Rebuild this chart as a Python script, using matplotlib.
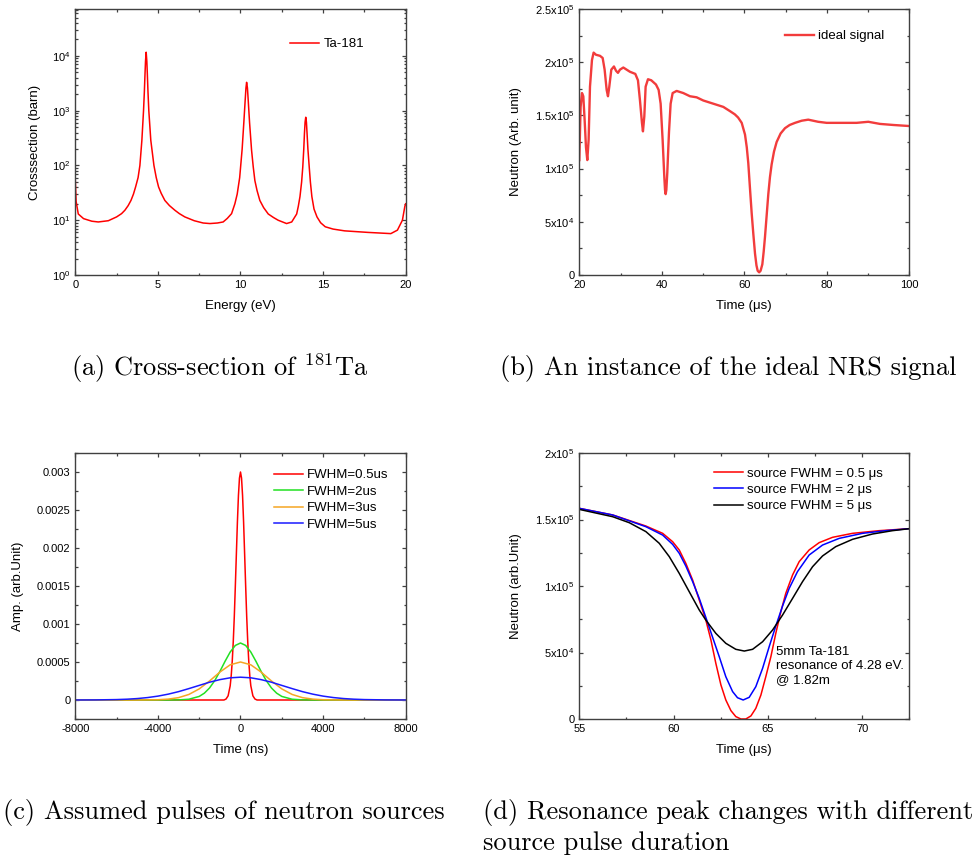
import numpy as np
import matplotlib
matplotlib.use('Agg')
import matplotlib.pyplot as plt
from matplotlib.ticker import MultipleLocator, FuncFormatter, LogLocator, NullFormatter

plt.rcParams.update({
    'font.family': 'Liberation Sans',
    'mathtext.fontset': 'custom',
    'mathtext.rm': 'Liberation Sans',
    'mathtext.it': 'Liberation Sans:italic',
    'mathtext.bf': 'Liberation Sans:bold',
    'axes.unicode_minus': False,
    'xtick.direction': 'in',
    'ytick.direction': 'in',
    'xtick.top': True,
    'ytick.right': True,
    'xtick.major.size': 3.2,
    'ytick.major.size': 3.2,
    'xtick.minor.size': 1.8,
    'ytick.minor.size': 1.8,
    'xtick.labelsize': 8,
    'ytick.labelsize': 8,
    'axes.labelsize': 9.5,
    'axes.linewidth': 1.0,
    'axes.edgecolor': '#404040',
    'lines.solid_joinstyle': 'round',
})

# (a) Ta-181 cross-section
energy = [0.0, 0.05, 0.18, 0.5, 1.0, 1.39, 2.0, 2.5, 2.8, 3.0, 3.2, 3.37, 3.52,
          3.65, 3.8, 3.91, 4.03, 4.13, 4.18, 4.22, 4.25, 4.29, 4.33, 4.36, 4.40,
          4.45, 4.57, 4.76, 4.9, 5.04, 5.2, 5.42, 5.7, 6.03, 6.3, 6.63, 7.2,
          7.74, 8.15, 8.6, 8.95, 9.2, 9.46, 9.66, 9.8, 9.95, 10.1, 10.2, 10.28,
          10.33, 10.37, 10.42, 10.47, 10.55, 10.67, 10.77, 10.87, 11.0, 11.17,
          11.4, 11.68, 12.0, 12.28, 12.79, 13.1, 13.4, 13.5, 13.6, 13.7, 13.77,
          13.83, 13.87, 13.91, 13.95, 13.99, 14.03, 14.08, 14.16, 14.23, 14.32,
          14.45, 14.63, 14.85, 15.13, 15.6, 16.3, 17.7, 19.1, 19.5, 19.8,
          19.95, 20.0]
sigma = [53, 22, 13, 10.7, 9.6, 9.3, 9.8, 11.5, 13.2, 15.2, 18.5, 23, 30,
         40.6, 60, 100, 288, 1000, 2200, 4730, 8000, 11700, 8000, 4730, 2200,
         1000, 288, 100, 60, 40.6, 31, 23, 18.5, 15.2, 13.2, 11.5, 9.8,
         8.9, 8.7, 8.9, 9.3, 10.8, 13.2, 20, 30, 60, 200, 600, 1500,
         2600, 3300, 2600, 1500, 600, 190, 95, 53, 35, 23,
         17, 13, 11.2, 10, 8.7, 9.3, 13, 18, 27, 50, 94,
         200, 380, 620, 760, 620, 380, 200, 94, 50, 27,
         16, 11.5, 9.0, 7.6, 6.9, 6.4, 6.0, 5.7, 6.6, 10,
         18, 20]

# (b) ideal NRS signal (units of 1e5)
t_sig = [20.0, 20.32, 20.65, 20.97, 21.29, 21.62, 21.94, 22.26, 22.59, 23.07,
         23.47, 24.04, 25.01, 25.66, 26.14, 26.63, 26.95, 27.27, 27.76, 28.40,
         28.89, 29.37, 29.86, 30.67, 31.47, 32.28, 33.58, 34.22, 34.71, 35.19,
         35.43, 35.76, 36.08, 36.65, 37.45, 38.59, 39.23, 39.72, 40.20, 40.40,
         40.61, 40.78, 40.93, 41.10, 41.33, 41.53, 41.74, 42.14, 42.63, 43.60,
         45.21, 46.83, 48.44, 50.06, 51.68, 53.29, 54.91, 56.53, 57.70, 58.50,
         59.37, 60.17, 60.60, 60.97, 61.40, 61.79, 62.20, 62.60, 62.95, 63.24,
         63.60, 63.95, 64.37, 64.70, 65.02, 65.40, 65.82, 66.22, 66.63, 67.20,
         67.84, 68.80, 69.87, 71.00, 72.30, 73.90, 75.50, 76.70, 77.90, 79.96,
         83.19, 87.23, 90.06, 92.89, 96.12, 100.0]
n_sig = [1.08, 1.58, 1.71, 1.68, 1.46, 1.20, 1.08, 1.27, 1.77, 2.02,
         2.09, 2.07, 2.06, 2.04, 1.93, 1.74, 1.68, 1.77, 1.93, 1.96,
         1.92, 1.90, 1.93, 1.95, 1.93, 1.91, 1.89, 1.83, 1.64, 1.43,
         1.35, 1.49, 1.77, 1.84, 1.83, 1.79, 1.74, 1.61, 1.27, 1.10,
         0.92, 0.80, 0.76, 0.80, 0.96, 1.15, 1.34, 1.61, 1.71, 1.73,
         1.71, 1.68, 1.67, 1.64, 1.62, 1.60, 1.58, 1.54, 1.51, 1.48,
         1.43, 1.32, 1.20, 1.05, 0.80, 0.58, 0.38, 0.20, 0.09, 0.04,
         0.025, 0.04, 0.10, 0.22, 0.36, 0.55, 0.76, 0.92, 1.04, 1.16,
         1.25, 1.33, 1.38, 1.41, 1.43, 1.45, 1.46, 1.45, 1.44, 1.43,
         1.43, 1.43, 1.44, 1.42, 1.41, 1.40]

# (c) source pulses, right half (pulses are symmetric around 0)
pulse_labels = ['FWHM=0.5us', 'FWHM=2us', 'FWHM=3us', 'FWHM=5us']
pulse_colors = ['#ff0000', '#22e022', '#f5a623', '#1a1aff']
t_p05 = [0, 50, 100, 150, 200, 250, 300, 350, 400, 450, 500, 600, 700, 800, 8000]
a_p05 = [0.003, 0.00292, 0.00269, 0.00234, 0.00192, 0.0015, 0.0011, 0.00077,
         0.00051, 0.00032, 0.000186, 0.000055, 0.000013, 0.0, 0.0]
t_p2 = [0, 250, 500, 750, 1000, 1250, 1500, 1750, 2000, 2500, 3000, 3500, 8000]
a_p2 = [0.00075, 0.000718, 0.000631, 0.000508, 0.000375, 0.000254, 0.000158,
        0.00009, 0.000047, 0.00001, 0.0000015, 0.0, 0.0]
t_p3 = [0, 500, 1000, 1500, 2000, 2500, 3000, 3500, 4000, 5000, 6000, 8000]
a_p3 = [0.0005, 0.000463, 0.000367, 0.00025, 0.000146, 0.000073, 0.000031,
        0.0000115, 0.0000036, 0.0000002, 0.0, 0.0]
t_p5 = [0, 500, 1000, 1500, 2000, 2500, 3000, 3500, 4000, 4500, 5000, 5500,
        6000, 7000, 8000]
a_p5 = [0.0003, 0.000292, 0.000268, 0.000234, 0.000192, 0.00015, 0.00011,
        0.000077, 0.000051, 0.000032, 0.0000188, 0.0000105, 0.0000055,
        0.0000013, 0.00000025]

# (d) resonance dip for different source widths (units of 1e5)
t_red = [55.00, 56.77, 58.53, 59.42, 59.95, 60.30, 60.65, 61.01, 61.36, 61.71,
         61.98, 62.24, 62.51, 62.77, 63.04, 63.30, 63.57, 63.83, 64.10, 64.36,
         64.63, 64.89, 65.16, 65.42, 65.69, 65.95, 66.31, 66.66, 67.19, 67.72,
         68.43, 69.49, 70.90, 72.50]
n_red = [1.584, 1.534, 1.451, 1.396, 1.333, 1.271, 1.170, 1.045, 0.895, 0.744,
         0.594, 0.419, 0.256, 0.143, 0.063, 0.018, 0.0, 0.0, 0.023, 0.080,
         0.180, 0.318, 0.469, 0.644, 0.807, 0.945, 1.083, 1.183, 1.271, 1.326,
         1.366, 1.396, 1.416, 1.431]
t_blue = [55.00, 56.77, 58.53, 59.42, 59.95, 60.30, 60.65, 61.01, 61.36, 61.71,
          62.07, 62.42, 62.77, 63.13, 63.39, 63.69, 64.01, 64.36, 64.72, 65.07,
          65.42, 65.78, 66.13, 66.57, 67.19, 67.90, 68.78, 70.02, 71.25, 72.50]
n_blue = [1.584, 1.534, 1.446, 1.383, 1.313, 1.246, 1.150, 1.033, 0.907, 0.764,
          0.614, 0.469, 0.318, 0.206, 0.160, 0.143, 0.163, 0.243, 0.381, 0.544,
          0.699, 0.850, 0.982, 1.108, 1.233, 1.308, 1.358, 1.396, 1.416, 1.431]
t_black = [55.00, 56.77, 57.65, 58.53, 59.24, 59.77, 60.30, 60.83, 61.36, 61.71,
           62.24, 62.77, 63.30, 63.75, 64.19, 64.72, 65.25, 65.78, 66.31, 66.84,
           67.37, 67.90, 68.60, 69.49, 70.55, 71.61, 72.50]
n_black = [1.576, 1.521, 1.476, 1.409, 1.321, 1.221, 1.095, 0.957, 0.820, 0.744,
           0.644, 0.569, 0.524, 0.511, 0.524, 0.581, 0.669, 0.782, 0.907, 1.033,
           1.145, 1.226, 1.296, 1.351, 1.391, 1.416, 1.431]


def mirror(t, a):
    t = np.asarray(t, dtype=float)
    a = np.asarray(a, dtype=float)
    return np.concatenate([-t[:0:-1], t]), np.concatenate([a[:0:-1], a])


def sci_label(v, pos):
    if v < 0:
        return ''
    if v < 1e-9:
        return '0'
    exp = int(np.floor(np.log10(v) + 1e-9))
    mant = v / 10 ** exp
    return r'%gx10$^{%d}$' % (round(mant, 2), exp)


def plain_label(v, pos):
    if abs(v) < 1e-12:
        return '0'
    return '%g' % v


fig = plt.figure(figsize=(9.78, 8.6), dpi=100)
W, H = 978.0, 860.0


def add_axes(left, top, right, bottom):
    return fig.add_axes([left / W, 1 - bottom / H, (right - left) / W,
                         (bottom - top) / H])


ax_a = add_axes(75.3, 9, 405.7, 275)
ax_b = add_axes(579.3, 9, 909.3, 275)
ax_c = add_axes(75.3, 453, 405.7, 719)
ax_d = add_axes(579.3, 453, 909.3, 719)

for ax in (ax_a, ax_b, ax_c, ax_d):
    ax.tick_params(which='both', top=True, right=True, width=0.9,
                   color='#404040')

leg_kw = dict(frameon=False, fontsize=9.5, handlelength=2.2, handletextpad=0.3,
              borderaxespad=0.0)

# (a)
ax_a.plot(energy, sigma, color='#ff0000', lw=1.1, label='Ta-181')
ax_a.set_yscale('log')
ax_a.set_xlim(0, 20)
ax_a.set_ylim(1, 7.2e4)
ax_a.xaxis.set_major_locator(MultipleLocator(5))
ax_a.xaxis.set_minor_locator(MultipleLocator(2.5))
ax_a.yaxis.set_major_locator(LogLocator(base=10, numticks=10))
ax_a.yaxis.set_minor_locator(LogLocator(base=10, subs=np.arange(2, 10), numticks=20))
ax_a.yaxis.set_minor_formatter(NullFormatter())
ax_a.set_xlabel('Energy (eV)', labelpad=7)
ax_a.set_ylabel('Crosssection (barn)', labelpad=8)
ax_a.legend(loc='upper right', bbox_to_anchor=(0.89, 0.91), **leg_kw)

# (b)
ax_b.plot(t_sig, np.asarray(n_sig) * 1e5, color='#f23c3c', lw=1.7,
          label='ideal signal')
ax_b.set_xlim(20, 100)
ax_b.set_ylim(0, 2.5e5)
ax_b.xaxis.set_major_locator(MultipleLocator(20))
ax_b.xaxis.set_minor_locator(MultipleLocator(10))
ax_b.yaxis.set_major_locator(MultipleLocator(0.5e5))
ax_b.yaxis.set_minor_locator(MultipleLocator(0.25e5))
ax_b.yaxis.set_major_formatter(FuncFormatter(sci_label))
ax_b.set_xlabel('Time (μs)', labelpad=7)
ax_b.set_ylabel('Neutron (Arb. unit)', labelpad=9)
ax_b.legend(loc='upper right', bbox_to_anchor=(0.94, 0.94), **leg_kw)

# (c)
for (t, a), lab, col in zip([(t_p05, a_p05), (t_p2, a_p2), (t_p3, a_p3), (t_p5, a_p5)],
                            pulse_labels, pulse_colors):
    tt, aa = mirror(t, a)
    ax_c.plot(tt, aa, color=col, lw=1.1, label=lab)
ax_c.set_xlim(-8000, 8000)
ax_c.set_ylim(-0.00025, 0.00325)
ax_c.xaxis.set_major_locator(MultipleLocator(4000))
ax_c.xaxis.set_minor_locator(MultipleLocator(2000))
ax_c.yaxis.set_major_locator(MultipleLocator(0.0005))
ax_c.yaxis.set_minor_locator(MultipleLocator(0.00025))
ax_c.yaxis.set_major_formatter(FuncFormatter(plain_label))
ax_c.set_xlabel('Time (ns)', labelpad=7)
ax_c.set_ylabel('Amp. (arb.Unit)', labelpad=9)
ax_c.legend(loc='upper right', bbox_to_anchor=(0.965, 0.96), labelspacing=0.33,
            **leg_kw)

# (d)
ax_d.plot(t_red, np.asarray(n_red) * 1e5, color='#ff0000', lw=1.1,
          label='source FWHM = 0.5 μs')
ax_d.plot(t_blue, np.asarray(n_blue) * 1e5, color='#0000ff', lw=1.1,
          label='source FWHM = 2 μs')
ax_d.plot(t_black, np.asarray(n_black) * 1e5, color='#000000', lw=1.1,
          label='source FWHM = 5 μs')
ax_d.set_xlim(55, 72.5)
ax_d.set_ylim(0, 2e5)
ax_d.xaxis.set_major_locator(MultipleLocator(5))
ax_d.xaxis.set_minor_locator(MultipleLocator(2.5))
ax_d.yaxis.set_major_locator(MultipleLocator(0.5e5))
ax_d.yaxis.set_minor_locator(MultipleLocator(0.25e5))
ax_d.yaxis.set_major_formatter(FuncFormatter(sci_label))
ax_d.set_xlabel('Time (μs)', labelpad=7)
ax_d.set_ylabel('Neutron (arb.Unit)', labelpad=9)
ax_d.legend(loc='upper right', bbox_to_anchor=(0.935, 0.965), labelspacing=0.3,
            **leg_kw)
ax_d.text(0.597, 0.2, '5mm Ta-181\nresonance of 4.28 eV.\n@ 1.82m',
          transform=ax_d.transAxes, fontsize=9.5, va='center', ha='left',
          linespacing=1.2)

# captions
cap = dict(fontsize=19, family='cmr10', math_fontfamily='cm', va='center')
fig.text(220 / W, 1 - 368 / H, r'(a) Cross-section of $^{181}$Ta', ha='center', **cap)
fig.text(500 / W, 1 - 368 / H, '(b) An instance of the ideal NRS signal', ha='left', **cap)
fig.text(3 / W, 1 - 812 / H, '(c) Assumed pulses of neutron sources', ha='left', **cap)
fig.text(483 / W, 1 - 812 / H, '(d) Resonance peak changes with different', ha='left', **cap)
fig.text(483 / W, 1 - 843 / H, 'source pulse duration', ha='left', **cap)

fig.savefig('out.png', dpi=100)
